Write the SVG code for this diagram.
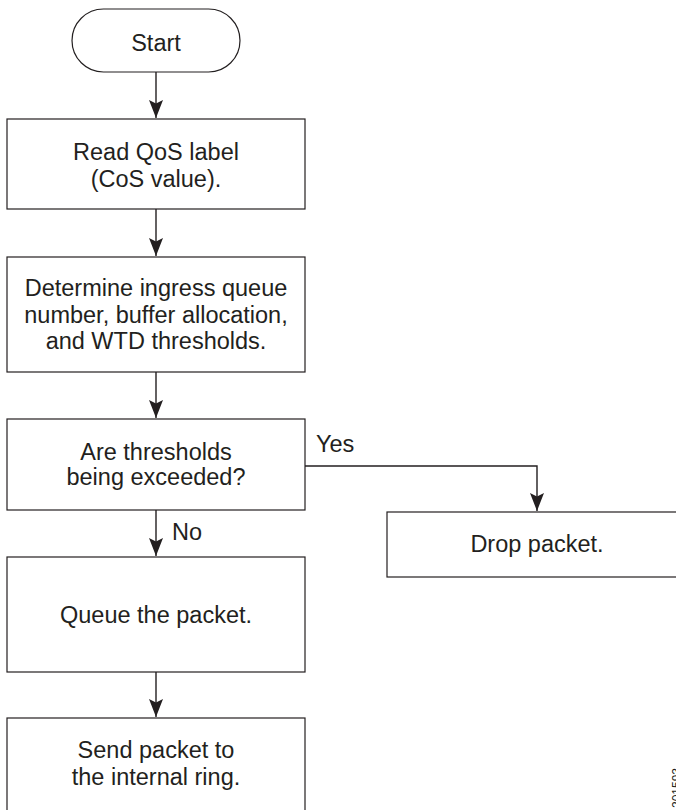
<svg xmlns="http://www.w3.org/2000/svg" width="676" height="810" viewBox="0 0 676 810">
<style>
.box{fill:#ffffff;stroke:#231f20;stroke-width:1.2}
.t{font-family:"Liberation Sans",Arial,sans-serif;font-size:23.5px;fill:#231f20;text-anchor:middle}
.l{font-family:"Liberation Sans",Arial,sans-serif;font-size:23.5px;fill:#231f20}
.c{fill:none;stroke:#231f20;stroke-width:1.4}
</style>
<defs>
<marker id="ah" markerUnits="userSpaceOnUse" markerWidth="22" markerHeight="16" viewBox="-20 -8 22 16" refX="0" refY="0" orient="auto">
<path d="M0,0 L-18,-7 L-14.5,0 L-18,7 Z" fill="#231f20"/>
</marker>
</defs>
<rect width="676" height="810" fill="#ffffff"/>
<g id="connectors">
<line class="c" x1="156" y1="72" x2="156" y2="118" marker-end="url(#ah)"/>
<line class="c" x1="156" y1="209" x2="156" y2="256" marker-end="url(#ah)"/>
<line class="c" x1="156" y1="372" x2="156" y2="418" marker-end="url(#ah)"/>
<polyline class="c" points="305,466 537,466 537,511" marker-end="url(#ah)"/>
<line class="c" x1="156" y1="510" x2="156" y2="556" marker-end="url(#ah)"/>
<line class="c" x1="156" y1="672" x2="156" y2="717" marker-end="url(#ah)"/>
<text class="l" x="316" y="452">Yes</text>
<text class="l" x="172" y="540">No</text>
</g>
<g id="start">
<rect class="box" x="72" y="9" width="168" height="63" rx="31.5" ry="31.5"/>
<text class="t" x="156" y="51">Start</text>
</g>
<g id="read">
<rect class="box" x="7" y="119" width="298" height="90"/>
<text class="t" x="156" y="160">Read QoS label</text>
<text class="t" x="156" y="187">(CoS value).</text>
</g>
<g id="determine">
<rect class="box" x="7" y="257" width="298" height="115"/>
<text class="t" x="156" y="296">Determine ingress queue</text>
<text class="t" x="156" y="323">number, buffer allocation,</text>
<text class="t" x="156" y="349">and WTD thresholds.</text>
</g>
<g id="decision">
<rect class="box" x="7" y="419" width="298" height="91"/>
<text class="t" x="156" y="460">Are thresholds</text>
<text class="t" x="156" y="485">being exceeded?</text>
</g>
<g id="drop">
<rect class="box" x="387" y="512" width="300" height="65"/>
<text class="t" x="537" y="552">Drop packet.</text>
</g>
<g id="queue">
<rect class="box" x="7" y="557" width="298" height="115"/>
<text class="t" x="156" y="623">Queue the packet.</text>
</g>
<g id="send">
<rect class="box" x="7" y="718" width="298" height="110"/>
<text class="t" x="156" y="758">Send packet to</text>
<text class="t" x="156" y="785">the internal ring.</text>
</g>
<text x="681" y="808" transform="rotate(-90 681 808)" font-family="'Liberation Sans',Arial,sans-serif" font-size="12" fill="#231f20">201593</text>
</svg>
